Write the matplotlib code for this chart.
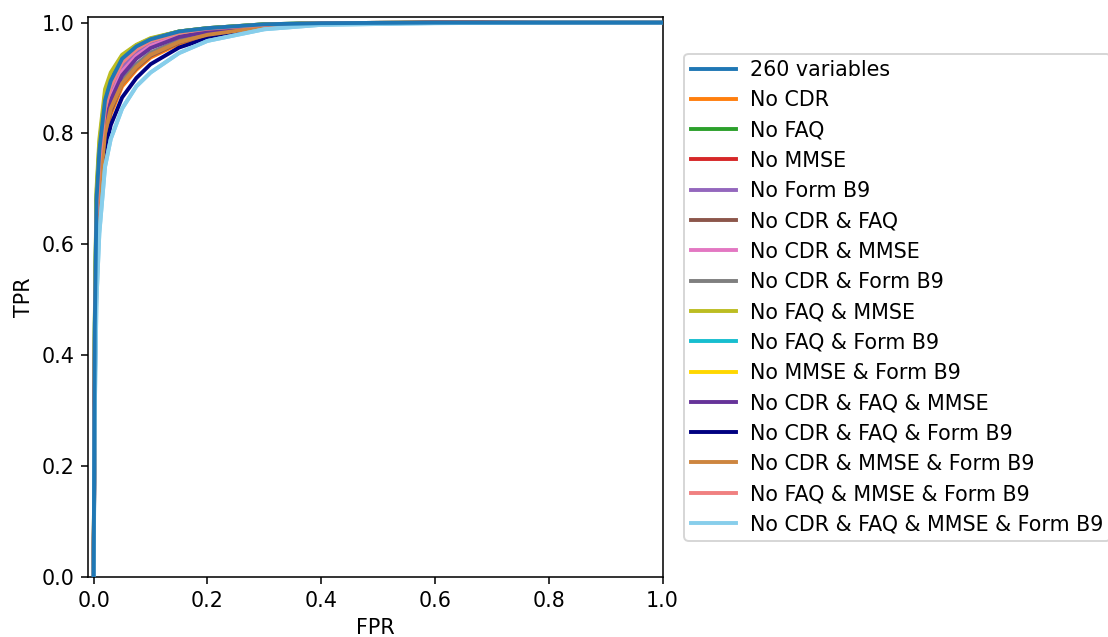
import numpy as np
import matplotlib.pyplot as plt

plt.rcParams['font.size'] = 10.6

# ROC points, false positive rate grid shared by all models
fpr = [0, 0.002, 0.005, 0.01, 0.02, 0.03, 0.05, 0.075, 0.1, 0.15, 0.2, 0.3, 0.4, 0.6, 0.8, 1.0]

tpr_all = [0, 0.45, 0.68, 0.77, 0.86, 0.895, 0.935, 0.957, 0.970, 0.984, 0.990, 0.997, 0.999, 1.0, 1.0, 1.0]
tpr_no_cdr = [0, 0.36, 0.57, 0.68, 0.79, 0.835, 0.885, 0.915, 0.937, 0.962, 0.977, 0.992, 0.998, 1.0, 1.0, 1.0]
tpr_no_faq = [0, 0.46, 0.69, 0.78, 0.87, 0.905, 0.94, 0.959, 0.971, 0.984, 0.990, 0.997, 0.999, 1.0, 1.0, 1.0]
tpr_no_mmse = [0, 0.42, 0.64, 0.74, 0.84, 0.88, 0.925, 0.950, 0.966, 0.981, 0.988, 0.996, 0.999, 1.0, 1.0, 1.0]
tpr_no_b9 = [0, 0.41, 0.63, 0.73, 0.83, 0.875, 0.92, 0.947, 0.964, 0.980, 0.988, 0.996, 0.999, 1.0, 1.0, 1.0]
tpr_no_cdr_faq = [0, 0.37, 0.58, 0.69, 0.80, 0.84, 0.89, 0.918, 0.940, 0.964, 0.978, 0.992, 0.998, 1.0, 1.0, 1.0]
tpr_no_cdr_mmse = [0, 0.40, 0.62, 0.72, 0.82, 0.865, 0.912, 0.940, 0.958, 0.976, 0.985, 0.995, 0.999, 1.0, 1.0, 1.0]
tpr_no_cdr_b9 = [0, 0.38, 0.59, 0.70, 0.81, 0.85, 0.897, 0.925, 0.946, 0.968, 0.980, 0.993, 0.998, 1.0, 1.0, 1.0]
tpr_no_faq_mmse = [0, 0.47, 0.70, 0.79, 0.88, 0.91, 0.942, 0.960, 0.972, 0.984, 0.990, 0.997, 0.999, 1.0, 1.0, 1.0]
tpr_no_faq_b9 = [0, 0.43, 0.66, 0.76, 0.85, 0.89, 0.93, 0.954, 0.968, 0.982, 0.989, 0.996, 0.999, 1.0, 1.0, 1.0]
tpr_no_mmse_b9 = [0, 0.44, 0.67, 0.76, 0.855, 0.89, 0.93, 0.953, 0.968, 0.982, 0.989, 0.996, 0.999, 1.0, 1.0, 1.0]
tpr_no_cdr_faq_mmse = [0, 0.39, 0.61, 0.71, 0.815, 0.86, 0.905, 0.935, 0.954, 0.974, 0.984, 0.994, 0.998, 1.0, 1.0, 1.0]
tpr_no_cdr_faq_b9 = [0, 0.34, 0.54, 0.66, 0.77, 0.815, 0.865, 0.900, 0.925, 0.955, 0.972, 0.990, 0.997, 1.0, 1.0, 1.0]
tpr_no_cdr_mmse_b9 = [0, 0.37, 0.58, 0.69, 0.80, 0.845, 0.89, 0.920, 0.942, 0.965, 0.978, 0.992, 0.998, 1.0, 1.0, 1.0]
tpr_no_faq_mmse_b9 = [0, 0.43, 0.65, 0.75, 0.845, 0.885, 0.928, 0.952, 0.967, 0.982, 0.989, 0.996, 0.999, 1.0, 1.0, 1.0]
tpr_no_all4 = [0, 0.30, 0.50, 0.62, 0.74, 0.79, 0.845, 0.885, 0.910, 0.945, 0.967, 0.988, 0.996, 0.999, 1.0, 1.0]

labels = ['260 variables', 'No CDR', 'No FAQ', 'No MMSE', 'No Form B9',
          'No CDR & FAQ', 'No CDR & MMSE', 'No CDR & Form B9', 'No FAQ & MMSE',
          'No FAQ & Form B9', 'No MMSE & Form B9', 'No CDR & FAQ & MMSE',
          'No CDR & FAQ & Form B9', 'No CDR & MMSE & Form B9',
          'No FAQ & MMSE & Form B9', 'No CDR & FAQ & MMSE & Form B9']
curves = [tpr_all, tpr_no_cdr, tpr_no_faq, tpr_no_mmse, tpr_no_b9,
          tpr_no_cdr_faq, tpr_no_cdr_mmse, tpr_no_cdr_b9, tpr_no_faq_mmse,
          tpr_no_faq_b9, tpr_no_mmse_b9, tpr_no_cdr_faq_mmse,
          tpr_no_cdr_faq_b9, tpr_no_cdr_mmse_b9, tpr_no_faq_mmse_b9, tpr_no_all4]
colors = ['tab:blue', 'tab:orange', 'tab:green', 'tab:red', 'tab:purple',
          'tab:brown', 'tab:pink', 'tab:gray', 'tab:olive', 'tab:cyan',
          'gold', 'rebeccapurple', 'navy', 'peru', 'lightcoral', 'skyblue']

fig = plt.figure(figsize=(1108 / 140, 637 / 140), dpi=140)
ax = fig.add_axes([0.0794, 0.0942, 0.5186, 0.879])

lines = []
for tpr, lab, c in zip(curves, labels, colors):
    l, = ax.plot(fpr, tpr, color=c, lw=2, label=lab)
    lines.append(l)

# redraw the worst and full models on top so they stay visible
ax.plot(fpr, tpr_no_all4, color='skyblue', lw=2, zorder=3)
ax.plot(fpr, tpr_all, color='tab:blue', lw=2, zorder=4)

ax.set_xlim(-0.01, 1.0)
ax.set_ylim(0, 1.01)
ax.set_xlabel('FPR')
ax.set_ylabel('TPR')
ax.legend(handles=lines, loc='center left', bbox_to_anchor=(1.02, 0.5),
          handlelength=2.2, handletextpad=0.7, borderpad=0.3)

plt.savefig('out.png', dpi=140)
